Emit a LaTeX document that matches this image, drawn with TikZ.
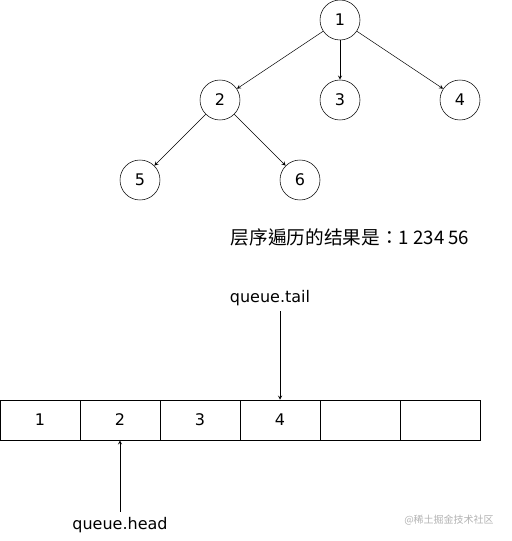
\documentclass[tikz,border=0pt]{standalone}
\usepackage{fontspec}
\setmainfont{DejaVu Sans}
\newfontfamily\cjk{Noto Sans CJK TC}
\usepackage{tikz}

\begin{document}
\begin{tikzpicture}[
    x=0.75pt, y=-0.75pt,
    vert/.style={draw, circle, minimum size=30pt, inner sep=0pt, font=\fontsize{12}{14}\selectfont},
    cell/.style={draw, minimum width=60pt, minimum height=30pt, inner sep=0pt, font=\fontsize{12}{14}\selectfont},
    lbl/.style={font=\fontsize{12}{14}\selectfont, inner sep=4pt},
    arr/.style={->, >=stealth}
]
    \useasboundingbox (0,0) rectangle (511,541);

    % tree
    \node[vert] (n1) at (340,20) {1};
    \node[vert] (n2) at (220,100) {2};
    \node[vert] (n3) at (340,100) {3};
    \node[vert] (n4) at (460,100) {4};
    \node[vert] (n5) at (140,180) {5};
    \node[vert] (n6) at (300,180) {6};

    \draw[arr] (n1) -- (n2);
    \draw[arr] (n1) -- (n3);
    \draw[arr] (n1) -- (n4);
    \draw[arr] (n2) -- (n5);
    \draw[arr] (n2) -- (n6);

    \node[font=\cjk\fontsize{14}{16}\selectfont] (result) at (350,237) {层序遍历的结果是：1 234 56};

    % queue
    \foreach \v [count=\i] in {1,2,3,4,{},{}}
        \node[cell] (c\i) at (\i*80-40,420) {\v};

    \node[lbl] (tail) at (270,298) {queue.tail};
    \node[lbl] (head) at (120,525) {queue.head};

    \draw[arr] (c4.north |- tail.south) -- (c4.north);
    \draw[arr] (c2.south |- head.north) -- (c2.south);

    \node[font=\cjk\fontsize{7.5}{9}\selectfont, text=gray!60] (mark) at (449,520) {@稀土掘金技术社区};
\end{tikzpicture}
\end{document}
